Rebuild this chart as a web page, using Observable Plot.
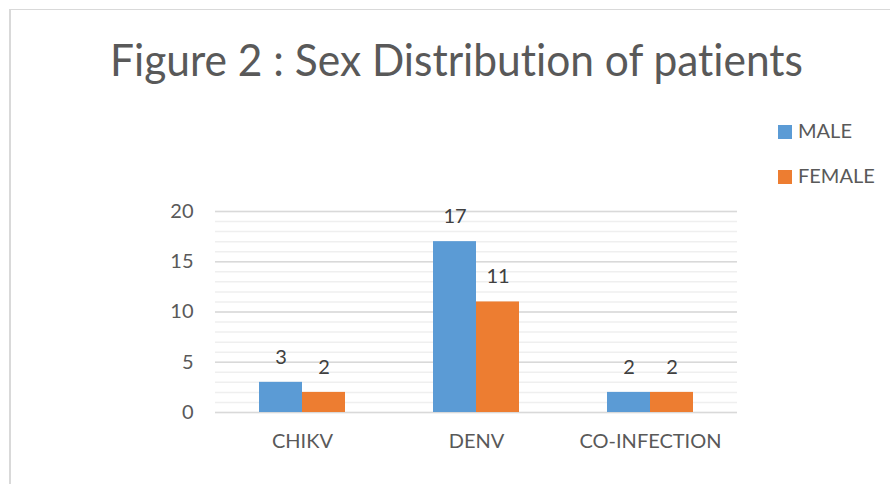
<!DOCTYPE html>
<html>
<head>
<meta charset="utf-8">
<script src="https://cdn.jsdelivr.net/npm/d3@7"></script>
<script src="https://cdn.jsdelivr.net/npm/@observablehq/plot@0.6"></script>
<style>
  html, body { margin: 0; padding: 0; background: #fff; }
  #wrap { position: relative; width: 890px; height: 484px; overflow: hidden; font-family: Lato, "Open Sans", sans-serif; font-variant-ligatures: none; }
  #frame { position: absolute; left: 9px; top: 9px; width: 900px; height: 500px; border-left: 2px solid #d9d9d9; border-top: 1px solid #d9d9d9; }
  #title { position: absolute; top: 37px; left: 0; white-space: nowrap; font-size: 45px; color: #595959; transform-origin: 0 0; line-height: 1; font-variant-ligatures: none; }
  #chart { position: absolute; left: 0; top: 0; }
  #chart svg text { font-variant-ligatures: none; }
  .leg { position: absolute; left: 778px; font-size: 20px; color: #595959; white-space: nowrap; line-height: 1; }
  .leg span.sw { display: inline-block; width: 14px; height: 14px; margin-right: 6px; vertical-align: -1px; }
</style>
</head>
<body>
<div id="wrap">
  <div id="frame"></div>
  <div id="chart"></div>
  <div id="title">Figure 2 : Sex Distribution of patients</div>
  <div id="legend"></div>
</div>
<script>
const categories = ["CHIKV", "DENV", "CO-INFECTION"];
const sexes = ["MALE", "FEMALE"];
const male = [3, 17, 2];
const female = [2, 11, 2];
const colors = ["#5B9BD5", "#ED7D31"];
const yTicks = [0, 5, 10, 15, 20];
const yMinor = d3.range(0, 21);

const data = [];
categories.forEach((c, i) => {
  data.push({cat: c, sex: "MALE", value: male[i]});
  data.push({cat: c, sex: "FEMALE", value: female[i]});
});

const chart = Plot.plot({
  width: 890,
  height: 484,
  marginLeft: 215,
  marginRight: 153,
  marginTop: 211,
  marginBottom: 72,
  style: {fontFamily: "Lato, 'Open Sans', sans-serif", fontSize: "20px", color: "#595959", background: "transparent", overflow: "visible"},
  fx: {domain: categories, padding: 0, label: null, tickSize: 0, tickPadding: 21, axis: "bottom"},
  x: {domain: sexes, padding: 0, insetLeft: 43.5, insetRight: 43.5, axis: null},
  y: {domain: [0, 20], ticks: yTicks, tickSize: 0, tickPadding: 22, label: null},
  color: {domain: sexes, range: colors},
  marks: [
    Plot.ruleY(yMinor, {stroke: "#efefef", strokeWidth: 1.5}),
    Plot.ruleY(yTicks, {stroke: "#d9d9d9", strokeWidth: 1.5}),
    Plot.barY(data, {fx: "cat", x: "sex", y: "value", fill: "sex"}),
    Plot.text(data, {fx: "cat", x: "sex", y: "value", text: d => String(d.value), dy: -25, fill: "#404040", fontSize: 20})
  ]
});
document.getElementById("chart").appendChild(chart);

// title: fit to the measured width of the reference
const t = document.getElementById("title");
const w = t.getBoundingClientRect().width;
const targetW = 693, targetL = 110;
const k = targetW / w;
t.style.transform = `scaleX(${k})`;
t.style.left = targetL + "px";

const legend = document.getElementById("legend");
sexes.forEach((s, i) => {
  const d = document.createElement("div");
  d.className = "leg";
  d.style.top = (120 + i * 45) + "px";
  d.innerHTML = `<span class="sw" style="background:${colors[i]}"></span>${s}`;
  legend.appendChild(d);
});
</script>
</body>
</html>
